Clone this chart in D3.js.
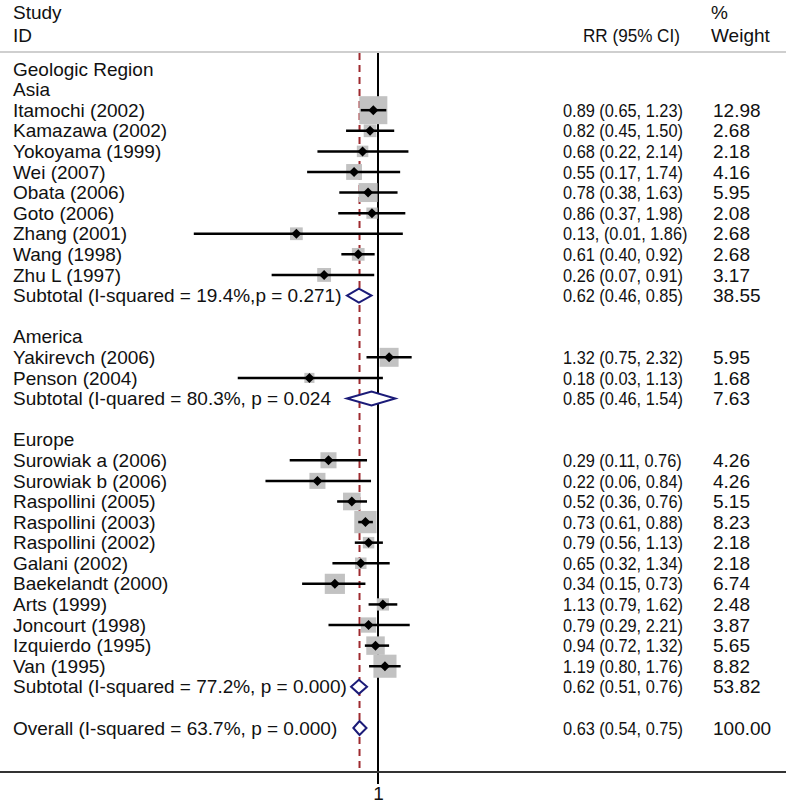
<!DOCTYPE html>
<html>
<head>
<meta charset="utf-8">
<script src="https://cdn.jsdelivr.net/npm/d3@7"></script>
<style>
  body { margin: 0; background: #fff; }
  text { font-family: "Liberation Sans", Arial, sans-serif; fill: #111; }
</style>
</head>
<body>
<div id="forest"></div>
<script>
// rows of the forest plot, top to bottom (blank rows are "")
var rowLabels = [
    "Geologic Region", "Asia",
    "Itamochi (2002)", "Kamazawa (2002)", "Yokoyama (1999)", "Wei (2007)", "Obata (2006)",
    "Goto (2006)", "Zhang (2001)", "Wang (1998)", "Zhu L (1997)",
    "Subtotal (I-squared = 19.4%,p = 0.271)", "",
    "America", "Yakirevch (2006)", "Penson (2004)",
    "Subtotal (I-quared = 80.3%, p = 0.024", "",
    "Europe", "Surowiak a (2006)", "Surowiak b (2006)", "Raspollini (2005)", "Raspollini (2003)",
    "Raspollini (2002)", "Galani (2002)", "Baekelandt (2000)", "Arts (1999)", "Joncourt (1998)",
    "Izquierdo (1995)", "Van (1995)",
    "Subtotal (I-squared = 77.2%, p = 0.000)", "",
    "Overall (I-squared = 63.7%, p = 0.000)"
];
// h = heading, s = study, p = pooled (diamond), b = blank
var rowType = ["h", "h", "s", "s", "s", "s", "s", "s", "s", "s", "s", "p", "b",
    "h", "s", "s", "p", "b",
    "h", "s", "s", "s", "s", "s", "s", "s", "s", "s", "s", "s", "p", "b", "p"];

var rr = [null, null, 0.89, 0.82, 0.68, 0.55, 0.78, 0.86, 0.13, 0.61, 0.26, 0.62, null,
    null, 1.32, 0.18, 0.85, null,
    null, 0.29, 0.22, 0.52, 0.73, 0.79, 0.65, 0.34, 1.13, 0.79, 0.94, 1.19, 0.62, null, 0.63];
var lower = [null, null, 0.65, 0.45, 0.22, 0.17, 0.38, 0.37, 0.01, 0.40, 0.07, 0.46, null,
    null, 0.75, 0.03, 0.46, null,
    null, 0.11, 0.06, 0.36, 0.61, 0.56, 0.32, 0.15, 0.79, 0.29, 0.72, 0.80, 0.51, null, 0.54];
var upper = [null, null, 1.23, 1.50, 2.14, 1.74, 1.63, 1.98, 1.86, 0.92, 0.91, 0.85, null,
    null, 2.32, 1.13, 1.54, null,
    null, 0.76, 0.84, 0.76, 0.88, 1.13, 1.34, 0.73, 1.62, 2.21, 1.32, 1.76, 0.76, null, 0.75];
var weight = [null, null, 12.98, 2.68, 2.18, 4.16, 5.95, 2.08, 2.68, 2.68, 3.17, 38.55, null,
    null, 5.95, 1.68, 7.63, null,
    null, 4.26, 4.26, 5.15, 8.23, 2.18, 2.18, 6.74, 2.48, 3.87, 5.65, 8.82, 53.82, null, 100.00];
var ciLabels = ["", "",
    "0.89 (0.65, 1.23)", "0.82 (0.45, 1.50)", "0.68 (0.22, 2.14)", "0.55 (0.17, 1.74)",
    "0.78 (0.38, 1.63)", "0.86 (0.37, 1.98)", "0.13, (0.01, 1.86)", "0.61 (0.40, 0.92)",
    "0.26 (0.07, 0.91)", "0.62 (0.46, 0.85)", "",
    "", "1.32 (0.75, 2.32)", "0.18 (0.03, 1.13)", "0.85 (0.46, 1.54)", "",
    "", "0.29 (0.11, 0.76)", "0.22 (0.06, 0.84)", "0.52 (0.36, 0.76)", "0.73 (0.61, 0.88)",
    "0.79 (0.56, 1.13)", "0.65 (0.32, 1.34)", "0.34 (0.15, 0.73)", "1.13 (0.79, 1.62)",
    "0.79 (0.29, 2.21)", "0.94 (0.72, 1.32)", "1.19 (0.80, 1.76)", "0.62 (0.51, 0.76)", "",
    "0.63 (0.54, 0.75)"];
var weightLabels = ["", "", "12.98", "2.68", "2.18", "4.16", "5.95", "2.08", "2.68", "2.68",
    "3.17", "38.55", "", "", "5.95", "1.68", "7.63", "", "", "4.26", "4.26", "5.15", "8.23",
    "2.18", "2.18", "6.74", "2.48", "3.87", "5.65", "8.82", "53.82", "", "100.00"];
var overallRR = 0.63;
var axisTicks = [1];

var W = 786, H = 803;
var fontSize = "19px";

var rows = rowLabels.map(function (d, i) {
    return {i: i, label: d, type: rowType[i], rr: rr[i], lo: lower[i], hi: upper[i],
        w: weight[i], ci: ciLabels[i], wl: weightLabels[i]};
});

var svg = d3.select("#forest")
    .append("svg")
    .attr("width", W)
    .attr("height", H);

// log scale, 1 sits at x=378
var x = d3.scaleLog()
    .domain([0.01, 1])
    .range([378 - 40 * Math.log(100), 378]);

var y = d3.scaleLinear()
    .domain([0, rows.length - 1])
    .range([69, 728]);

var size = d3.scaleSqrt()
    .domain([0, 12.98])
    .range([0, 28]);

var axisY = 772;

// header
var hdr = svg.append("g").style("font-size", fontSize);
hdr.append("text").attr("x", 13).attr("y", 12).attr("dy", "0.35em").text("Study");
hdr.append("text").attr("x", 13).attr("y", 35).attr("dy", "0.35em").text("ID");
var rrHead = hdr.append("text").attr("x", 583).attr("y", 35).attr("dy", "0.35em").text("RR (95% CI)");
hdr.append("text").attr("x", 711).attr("y", 12).attr("dy", "0.35em").text("%");
hdr.append("text").attr("x", 711).attr("y", 35).attr("dy", "0.35em").text("Weight");

svg.append("line")
    .attr("x1", 0).attr("x2", W)
    .attr("y1", 52).attr("y2", 52)
    .style("stroke", "#cfcfcf")
    .style("stroke-width", 2);

// reference lines
svg.append("line")
    .attr("x1", x(1)).attr("x2", x(1))
    .attr("y1", 53).attr("y2", axisY + 12)
    .style("stroke", "#000")
    .style("stroke-width", 2);

svg.append("line")
    .attr("x1", x(overallRR)).attr("x2", x(overallRR))
    .attr("y1", 53).attr("y2", axisY)
    .style("stroke", "#9e2a2f")
    .style("stroke-width", 2)
    .style("stroke-dasharray", "7,5");

// x axis
var xAxis = svg.append("g")
    .attr("transform", "translate(0," + axisY + ")")
    .call(d3.axisBottom(x).tickValues(axisTicks).tickFormat(d3.format("d")));
xAxis.select(".domain").remove();
xAxis.selectAll(".tick line").remove();
xAxis.selectAll("text").style("font-size", fontSize).style("fill", "#111")
    .attr("font-family", null).attr("y", 15);
svg.append("line")
    .attr("x1", 0).attr("x2", W)
    .attr("y1", axisY).attr("y2", axisY)
    .style("stroke", "#333")
    .style("stroke-width", 2);

// study rows
var studies = rows.filter(function (d) { return d.type === "s"; });

svg.selectAll("rect.wt")
    .data(studies)
    .enter()
    .append("rect")
    .attr("class", "wt")
    .attr("x", function (d) { return x(d.rr) - size(d.w) / 2; })
    .attr("y", function (d) { return y(d.i) - size(d.w) / 2; })
    .attr("width", function (d) { return size(d.w); })
    .attr("height", function (d) { return size(d.w); })
    .style("fill", "#c2c2c2");

svg.selectAll("line.ci")
    .data(studies)
    .enter()
    .append("line")
    .attr("class", "ci")
    .attr("x1", function (d) { return x(d.lo); })
    .attr("x2", function (d) { return x(d.hi); })
    .attr("y1", function (d) { return y(d.i); })
    .attr("y2", function (d) { return y(d.i); })
    .style("stroke", "#000")
    .style("stroke-width", 2.5);

svg.selectAll("path.pt")
    .data(studies)
    .enter()
    .append("path")
    .attr("class", "pt")
    .attr("d", function (d) {
        var cx = x(d.rr), cy = y(d.i);
        return "M" + (cx - 5) + "," + cy + "L" + cx + "," + (cy - 5) +
            "L" + (cx + 5) + "," + cy + "L" + cx + "," + (cy + 5) + "Z";
    })
    .style("fill", "#000");

// pooled diamonds
svg.selectAll("path.pool")
    .data(rows.filter(function (d) { return d.type === "p"; }))
    .enter()
    .append("path")
    .attr("class", "pool")
    .attr("d", function (d) {
        var cy = y(d.i);
        return "M" + x(d.lo) + "," + cy + "L" + x(d.rr) + "," + (cy - 7) +
            "L" + x(d.hi) + "," + cy + "L" + x(d.rr) + "," + (cy + 7) + "Z";
    })
    .style("fill", "#fff")
    .style("stroke", "#1b1b78")
    .style("stroke-width", 2);

// text columns
var txt = svg.append("g").style("font-size", fontSize);

txt.selectAll("text.lab")
    .data(rows)
    .enter()
    .append("text")
    .attr("class", "lab")
    .attr("x", 13)
    .attr("y", function (d) { return y(d.i); })
    .attr("dy", "0.35em")
    .text(function (d) { return d.label; });

txt.selectAll("text.ci")
    .data(rows.filter(function (d) { return d.ci !== ""; }))
    .enter()
    .append("text")
    .attr("class", "ci")
    .attr("x", 563)
    .attr("y", function (d) { return y(d.i); })
    .attr("dy", "0.35em")
    .text(function (d) { return d.ci; });

txt.selectAll("text.wl")
    .data(rows.filter(function (d) { return d.wl !== ""; }))
    .enter()
    .append("text")
    .attr("class", "wl")
    .attr("x", 713)
    .attr("y", function (d) { return y(d.i); })
    .attr("dy", "0.35em")
    .text(function (d) { return d.wl; });

// the CI column is set a bit narrower in the original
function squeeze(sel, k) {
    sel.each(function () {
        var len = this.getComputedTextLength();
        d3.select(this).attr("textLength", len * k).attr("lengthAdjust", "spacingAndGlyphs");
    });
}
squeeze(svg.selectAll("text.ci"), 0.86);
squeeze(rrHead, 0.9);
</script>
</body>
</html>
